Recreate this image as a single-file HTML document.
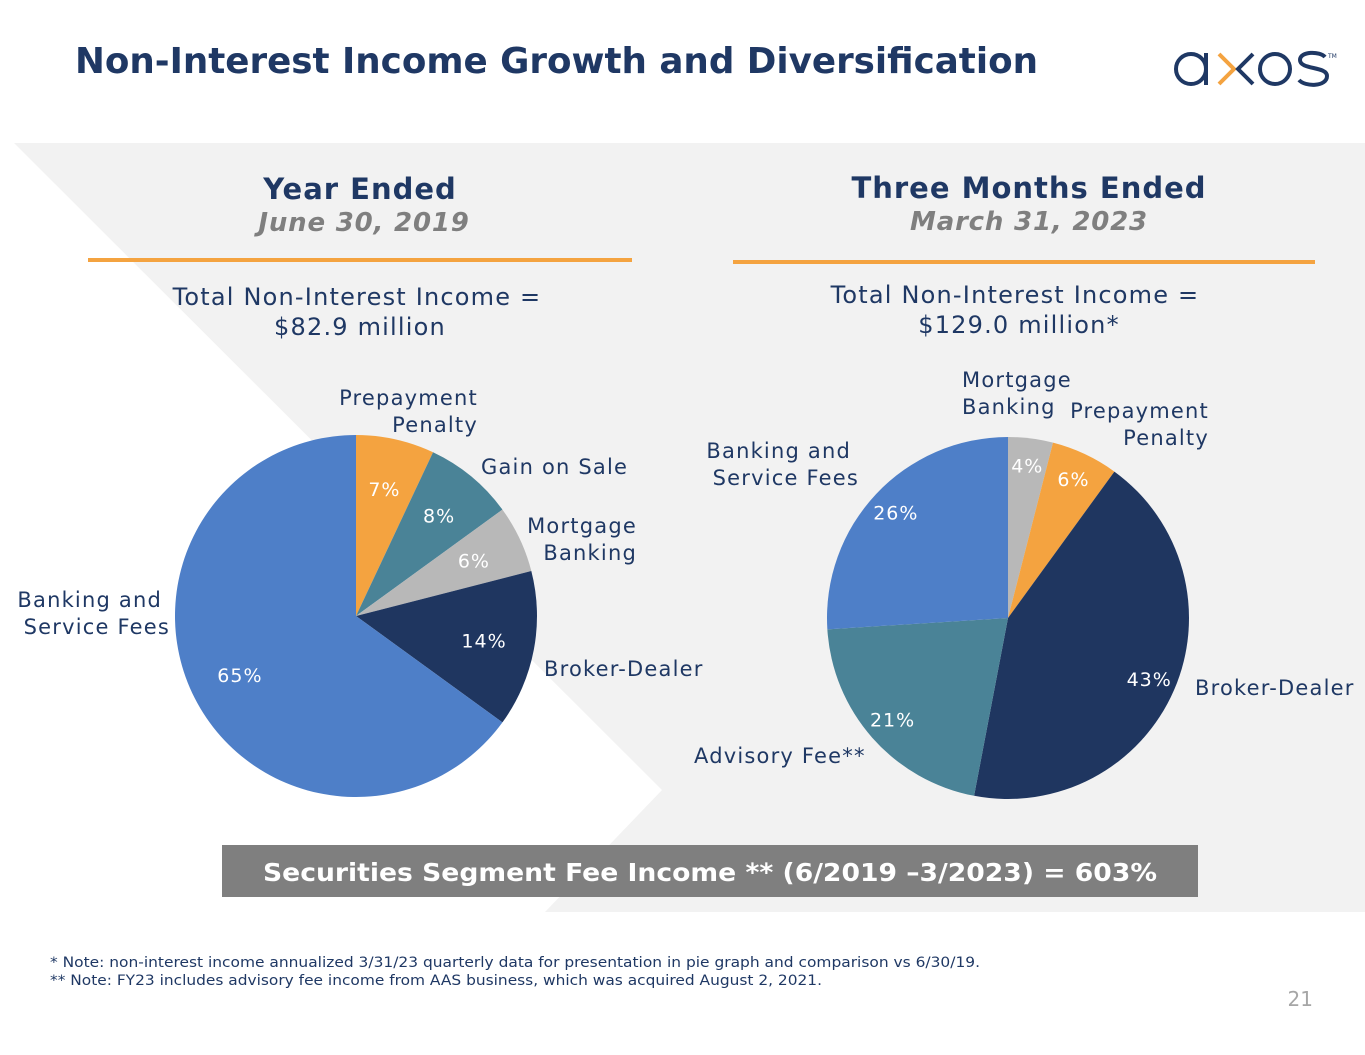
<!DOCTYPE html>
<html><head><meta charset="utf-8">
<style>
html,body{margin:0;padding:0;background:#fff;}
svg{display:block;font-family:"DejaVu Sans","Liberation Sans",sans-serif;}
</style></head>
<body>
<svg id="slide" width="1365" height="1055" viewBox="0 0 1365 1055">
  <polygon points="14,143 1365,143 1365,912 545,912 662,790" fill="#f2f2f2"/>
  <text x="75" y="73" font-size="36" font-weight="bold" fill="#1f3864" textLength="963" lengthAdjust="spacingAndGlyphs">Non-Interest Income Growth and Diversification</text>
  <g fill="none" stroke-width="4">
    <circle cx="1191" cy="69" r="15" stroke="#1f3864"/>
    <line x1="1206" y1="53" x2="1206" y2="85" stroke="#1f3864"/>
    <path d="M1219 54 L1234 69 L1219 84" stroke="#f4a340"/>
    <path d="M1253 54 L1238 69 L1253 84" stroke="#1f3864"/>
    <circle cx="1275" cy="69" r="15" stroke="#1f3864"/>
    <path d="M1325 57 C1320 51 1300 51 1300 60 C1300 70 1327 66 1327 76 C1327 87 1305 87 1299 80" stroke="#1f3864"/>
    <text x="1328" y="58" font-size="6" fill="#1f3864" stroke="none">TM</text>
  </g>

  <text x="360" y="199" font-size="29" font-weight="bold" fill="#1f3864" text-anchor="middle" letter-spacing="1">Year Ended</text>
  <text x="364" y="231" font-size="26" font-weight="bold" font-style="italic" fill="#7f7f7f" text-anchor="middle" letter-spacing="0.8">June 30, 2019</text>
  <rect x="88" y="258" width="544" height="4" fill="#f4a340"/>
  <text font-size="24" fill="#1f3864" text-anchor="middle" letter-spacing="1.2"><tspan x="357" y="305">Total Non-Interest Income =</tspan><tspan x="360" y="335">$82.9 million</tspan></text>

  <text x="1029" y="198" font-size="29" font-weight="bold" fill="#1f3864" text-anchor="middle" letter-spacing="1">Three Months Ended</text>
  <text x="1029" y="230" font-size="26" font-weight="bold" font-style="italic" fill="#7f7f7f" text-anchor="middle" letter-spacing="0.8">March 31, 2023</text>
  <rect x="733" y="260" width="582" height="4" fill="#f4a340"/>
  <text font-size="24" fill="#1f3864" text-anchor="middle" letter-spacing="1.2"><tspan x="1015" y="303">Total Non-Interest Income =</tspan><tspan x="1019" y="333">$129.0 million*</tspan></text>

  <g id="pie1"></g>
  <g id="pie2"></g>

  <g font-size="21" fill="#1f3864" letter-spacing="1.2">
    <text text-anchor="end"><tspan x="478" y="405">Prepayment</tspan><tspan x="478" y="432">Penalty</tspan></text>
    <text x="481" y="474">Gain on Sale</text>
    <text text-anchor="end"><tspan x="637" y="533">Mortgage</tspan><tspan x="637" y="560">Banking</tspan></text>
    <text x="544" y="676">Broker-Dealer</text>
    <text text-anchor="end"><tspan x="162" y="607">Banking and</tspan><tspan x="170" y="634">Service Fees</tspan></text>

    <text><tspan x="962" y="387">Mortgage</tspan><tspan x="962" y="414">Banking</tspan></text>
    <text text-anchor="end"><tspan x="1209" y="418">Prepayment</tspan><tspan x="1209" y="445">Penalty</tspan></text>
    <text text-anchor="end"><tspan x="851" y="458">Banking and</tspan><tspan x="859" y="485">Service Fees</tspan></text>
    <text x="1195" y="695">Broker-Dealer</text>
    <text x="694" y="763">Advisory Fee**</text>
  </g>

  <rect x="222" y="845" width="976" height="52" fill="#7f7f7f"/>
  <text x="710" y="881" font-size="25" font-weight="bold" fill="#fff" text-anchor="middle" textLength="894" lengthAdjust="spacingAndGlyphs">Securities Segment Fee Income ** (6/2019 –3/2023) = 603%</text>

  <text x="50" y="967" font-size="14" fill="#1f3864" textLength="930" lengthAdjust="spacingAndGlyphs">* Note: non-interest income annualized 3/31/23 quarterly data for presentation in pie graph and comparison vs 6/30/19.</text>
  <text x="50" y="985" font-size="14" fill="#1f3864" textLength="772" lengthAdjust="spacingAndGlyphs">** Note: FY23 includes advisory fee income from AAS business, which was acquired August 2, 2021.</text>
  <text x="1313" y="1006" font-size="20" fill="#a6a6a6" text-anchor="end">21</text>
</svg>
<script>
const pie1Categories = ["Prepayment Penalty","Gain on Sale","Mortgage Banking","Broker-Dealer","Banking and Service Fees"];
const pie1Values = [7,8,6,14,65];
const pie1Colors = ["#f4a340","#4a8397","#b8b8b8","#1f3660","#4e7fc8"];
const pie2Categories = ["Mortgage Banking","Prepayment Penalty","Broker-Dealer","Advisory Fee","Banking and Service Fees"];
const pie2Values = [4,6,43,21,26];
const pie2Colors = ["#b8b8b8","#f4a340","#1f3660","#4a8397","#4e7fc8"];

const NS = "http://www.w3.org/2000/svg";
function drawPie(gid, cx, cy, r, cats, vals, cols, lr) {
  const g = document.getElementById(gid);
  const total = vals.reduce((a,b)=>a+b,0);
  let a0 = 0;
  vals.forEach((v,i)=>{
    const a1 = a0 + v/total*2*Math.PI;
    const x0 = cx + r*Math.sin(a0), y0 = cy - r*Math.cos(a0);
    const x1 = cx + r*Math.sin(a1), y1 = cy - r*Math.cos(a1);
    const large = (a1-a0) > Math.PI ? 1 : 0;
    const p = document.createElementNS(NS,"path");
    p.setAttribute("d",`M${cx},${cy} L${x0},${y0} A${r},${r} 0 ${large} 1 ${x1},${y1} Z`);
    p.setAttribute("fill",cols[i]);
    
    
    g.appendChild(p);
    const am = (a0+a1)/2;
    const t = document.createElementNS(NS,"text");
    t.setAttribute("x", cx + lr*r*Math.sin(am));
    t.setAttribute("y", cy - lr*r*Math.cos(am) + 7);
    t.setAttribute("text-anchor","middle");
    t.setAttribute("font-size","19");
    t.setAttribute("letter-spacing","1");
    t.setAttribute("fill","#fff");
    t.textContent = v + "%";
    
    
    g.appendChild(t);
    a0 = a1;
  });
}
drawPie("pie1", 356, 616, 181, pie1Categories, pie1Values, pie1Colors, 0.72);
drawPie("pie2", 1008, 618, 181, pie2Categories, pie2Values, pie2Colors, 0.85);
</script>
</body></html>
